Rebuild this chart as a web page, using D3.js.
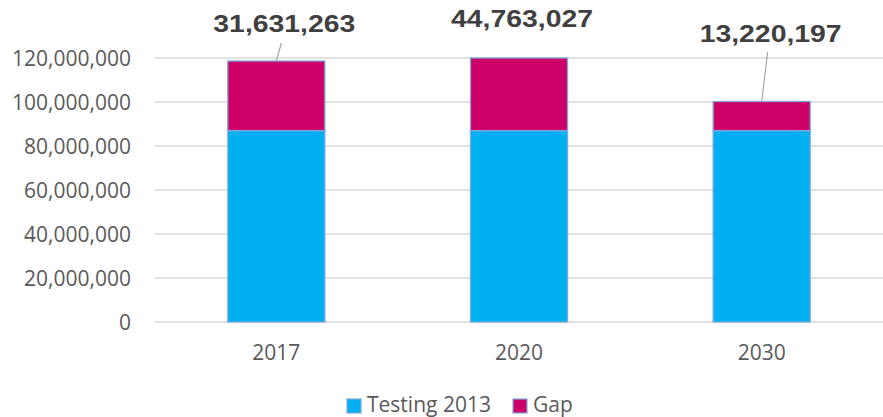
<!DOCTYPE html>
<html><head><meta charset="utf-8">
<script src="https://cdn.jsdelivr.net/npm/d3@7"></script>
<style>body{margin:0;background:#fff}svg{display:block}</style>
</head><body>
<svg id="c" width="883" height="417"></svg>
<script>
const categories = ["2017", "2020", "2030"];
const testing2013 = [87000000, 87000000, 87000000];
const gap = [31631263, 44763027, 13220197];
const gapLabels = ["31,631,263", "44,763,027", "13,220,197"];
const yTicks = [0, 20000000, 40000000, 60000000, 80000000, 100000000, 120000000];
const seriesNames = ["Testing 2013", "Gap"];
const colors = ["#00b0f0", "#cc0066"];

const svg = d3.select("#c");
const pLeft = 155, pRight = 883, pTop = 58, pBottom = 322;
const x = d3.scaleBand().domain(categories).range([pLeft, pRight]).paddingInner(0.6).paddingOuter(0.3);
const y = d3.scaleLinear().domain([0, 120000000]).range([pBottom, pTop]);

// gridlines
svg.append("g").selectAll("line").data(yTicks).join("line")
  .attr("x1", pLeft).attr("x2", pRight)
  .attr("y1", d => y(d)).attr("y2", d => y(d))
  .attr("stroke", "#d9d9d9").attr("stroke-width", 1.3);

// y labels
const fmt = d3.format(",");
svg.append("g").selectAll("text").data(yTicks).join("text")
  .attr("x", 131).attr("y", d => y(d)).attr("dy", "0.36em")
  .attr("text-anchor", "end")
  .attr("font-family", "Open Sans").attr("font-size", 21).attr("fill", "#595959")
  .text(d => fmt(d));

// stacked bars (clipped at axis max)
const yMax = 120000000;
const rows = categories.map((c, i) => ({cat: c, "Testing 2013": testing2013[i], "Gap": gap[i]}));
const stack = d3.stack().keys(seriesNames)(rows);
const g = svg.append("g");
stack.forEach((s, si) => {
  g.append("g").selectAll("rect").data(s).join("rect")
    .attr("x", d => x(d.data.cat))
    .attr("width", x.bandwidth())
    .attr("y", d => y(Math.min(d[1], yMax)))
    .attr("height", d => y(d[0]) - y(Math.min(d[1], yMax)))
    .attr("fill", colors[si])
    .attr("stroke", "#7fa9dc").attr("stroke-width", 1.3);
});

// x labels
svg.append("g").selectAll("text").data(categories).join("text")
  .attr("x", d => x(d) + x.bandwidth() / 2).attr("y", 360)
  .attr("text-anchor", "middle")
  .attr("font-family", "Open Sans").attr("font-size", 21).attr("fill", "#595959")
  .text(d => d);

// data labels
const labelPos = categories.map((c, i) => {
  const cx = x(c) + x.bandwidth() / 2;
  const topY = Math.max(y(testing2013[i] + gap[i]), pTop);
  return {cx, topY, i};
});
const lblOffsets = [{dx: 8, by: 32}, {dx: 3, by: 27}, {dx: 9, by: 42}];
svg.append("g").selectAll("text").data(labelPos).join("text")
  .attr("x", d => d.cx + lblOffsets[d.i].dx)
  .attr("y", d => lblOffsets[d.i].by)
  .attr("text-anchor", "middle")
  .attr("textLength", 142).attr("lengthAdjust", "spacingAndGlyphs")
  .attr("font-family", "Liberation Sans, Arial, sans-serif").attr("font-weight", "bold")
  .attr("font-size", 24).attr("fill", "#404040")
  .text(d => gapLabels[d.i]);

// leader lines
const leaders = [{i: 0, x2dx: 5, y1: 43}, {i: 2, x2dx: 6, y1: 52}];
svg.append("g").selectAll("line").data(leaders).join("line")
  .attr("x1", d => labelPos[d.i].cx + d.x2dx).attr("y1", d => d.y1)
  .attr("x2", d => labelPos[d.i].cx).attr("y2", d => labelPos[d.i].topY)
  .attr("stroke", "#a6a6a6").attr("stroke-width", 1.2);

// legend
const legend = svg.append("g");
const legX = [347, 513];
seriesNames.forEach((n, i) => {
  legend.append("rect").attr("x", legX[i]).attr("y", 399).attr("width", 14).attr("height", 14)
    .attr("fill", colors[i]).attr("stroke", "#7fa9dc").attr("stroke-width", 1.2);
  legend.append("text").attr("x", legX[i] + 20).attr("y", 412)
    .attr("font-family", "Open Sans").attr("font-size", 21).attr("fill", "#595959")
    .text(n);
});
</script>
</body></html>
